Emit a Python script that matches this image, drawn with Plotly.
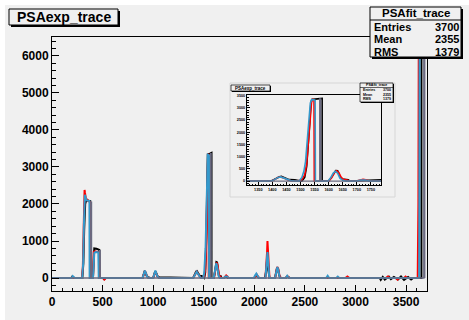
import plotly.graph_objects as go

# ---------------- data ----------------
# experimental trace (black histogram outline)
exp_x = [0, 190, 200, 210, 220,
         300, 310, 318, 322, 328, 336, 340, 378, 380,
         405, 410, 418, 440, 468, 470,
         505, 515, 530,
         895, 905, 915, 925, 935, 950, 970,
         1000, 1010, 1020, 1030, 1042, 1060, 1090, 1120, 1150,
         1395, 1405, 1415, 1425, 1432, 1440, 1450, 1460, 1480, 1490, 1500,
         1505, 1515, 1522, 1528, 1533, 1537, 1540, 1560, 1574, 1577, 1577,
         1600, 1610, 1618, 1625, 1632, 1640, 1648, 1660, 1670, 1675,
         1700, 1712, 1725, 1740,
         2000, 2012, 2022, 2035, 2045,
         2105, 2118, 2125, 2133, 2142, 2150,
         2205, 2215, 2225, 2235, 2245, 2260,
         2310, 2325, 2340, 2355,
         3240, 3250, 3270, 3290, 3330, 3350, 3380, 3420, 3450, 3480, 3520, 3550, 3570,
         3640, 3652, 3652, 3700]
exp_y = [0, 0, 40, 10, 0,
         0, 400, 1300, 1700, 2000, 2080, 2100, 2080, 0,
         0, 600, 800, 790, 760, 0,
         0, -30, 0,
         0, 80, 170, 150, 60, 20, 0,
         0, 90, 180, 140, 50, 20, 20, 10, 0,
         0, 60, 140, 180, 190, 150, 80, 60, 55, 20, 0,
         0, 150, 600, 1400, 2400, 3200, 3340, 3360, 3380, 3380, 0,
         0, 150, 330, 430, 420, 200, 80, 60, 50, 0,
         0, 30, 30, 0,
         0, 50, 80, 30, 0,
         0, 200, 450, 500, 150, 0,
         0, 150, 280, 250, 80, 0,
         0, 40, 30, 0,
         0, -50, 30, -40, 40, -30, 30, -40, 40, -50, 30, -40, 0,
         0, 0, 6300, 6300]

# fit trace (red)
red_x = [0, 195, 205, 215,
         295, 305, 312, 318, 322, 326, 335, 360, 376, 378,
         405, 408, 412, 425, 450, 465, 468,
         505, 518, 532,
         895, 908, 918, 928, 940, 955,
         1000, 1012, 1022, 1032, 1045, 1060,
         1395, 1408, 1420, 1430, 1440, 1452, 1465, 1480,
         1490, 1505, 1515, 1522, 1528, 1534, 1539, 1543, 1548, 1549,
         1600, 1610, 1620, 1628, 1636, 1644, 1652, 1665, 1675,
         1700, 1712, 1722, 1732, 1745,
         2000, 2015, 2025, 2038, 2050,
         2110, 2120, 2126, 2130, 2134, 2140, 2150,
         2205, 2218, 2226, 2236, 2250, 2265,
         2310, 2328, 2345,
         2900, 2920, 2940,
         3300, 3320, 3340, 3400, 3415, 3430, 3480, 3495, 3510,
         3615, 3622, 3626]
red_y = [0, 0, 30, 0,
         0, 300, 1200, 2000, 2380, 2300, 2150, 2080, 2050, 0,
         0, 250, 700, 720, 700, 690, 0,
         0, -40, 0,
         0, 100, 190, 130, 40, 0,
         0, 100, 170, 110, 30, 0,
         0, 60, 150, 170, 130, 60, 20, 0,
         0, 60, 250, 700, 1500, 2500, 3200, 3350, 3330, 0,
         0, 130, 330, 420, 350, 160, 70, 40, 0,
         0, 50, 70, 50, 0,
         0, 60, 90, 30, 0,
         0, 300, 700, 1000, 700, 200, 0,
         0, 180, 300, 250, 50, 0,
         0, 50, 0,
         0, 40, 0,
         0, 40, 0, 0, -40, 0, 0, 40, 0,
         0, 2000, 7000]

# fit trace (blue)
blue_x = [0, 195, 205, 215, 225,
          298, 308, 315, 320, 325, 330, 340, 370, 372,
          405, 412, 418, 430, 458, 462,
          895, 908, 918, 928, 940, 955,
          1000, 1012, 1022, 1032, 1045, 1060,
          1395, 1408, 1420, 1430, 1440, 1452, 1465, 1480,
          1495, 1505, 1512, 1518, 1524, 1530, 1535, 1540, 1548, 1552, 1553,
          1598, 1608, 1616, 1624, 1632, 1640, 1650, 1660,
          1700, 1715, 1730, 1745,
          1995, 2010, 2020, 2032, 2045,
          2110, 2122, 2130, 2138, 2148,
          2205, 2218, 2228, 2238, 2252,
          2310, 2325, 2340,
          2610, 2625, 2640,
          2710, 2725, 2740,
          2810, 2825, 2840,
          3615, 3630, 3634]
blue_y = [0, 0, 50, 10, 0,
          0, 400, 1400, 2000, 2250, 2200, 2100, 2080, 0,
          0, 400, 680, 700, 690, 0,
          0, 110, 200, 140, 40, 0,
          0, 110, 200, 120, 30, 0,
          0, 60, 150, 170, 130, 60, 20, 0,
          0, 150, 400, 800, 1500, 2500, 3200, 3330, 3320, 3300, 0,
          0, 150, 320, 400, 320, 120, 30, 0,
          0, 40, 40, 0,
          0, 80, 120, 60, 0,
          0, 400, 700, 400, 0,
          0, 200, 300, 200, 0,
          0, 60, 0,
          0, 20, 0,
          0, 60, 0,
          0, 40, 0,
          0, 0, 7000]

# second histogram (grey)
grey_x = [0, 384, 384, 390, 390, 472, 472, 476, 476, 1568, 1568, 1572, 1572, 3676, 3676, 3684, 3684]
grey_y = [0, 0, 2050, 2050, 0, 0, 740, 740, 0, 0, 3360, 3360, 0, 0, 7000, 7000, 0]

main_title = "PSAexp_trace"
stats_title = "PSAfit_trace"
stats_names = ["Entries", "Mean", "RMS"]
stats_values = ["3700", "2355", "1379"]
inset_xticks = [1350, 1400, 1450, 1500, 1550, 1600, 1650, 1700, 1750]

# ---------------- layout helpers ----------------
W, H = 469, 320
L, R, T, B = 52, 427, 37, 291
GREY = "#f0f0f0"
FONT = "Liberation Sans"


def px(x):
    return (x - L) / (R - L)


def py(y):
    return (B - y) / (B - T)


fig = go.Figure()

series = [
    (grey_x, grey_y, "#6a6a80", 1.5),
    (exp_x, exp_y, "black", 2),
    (red_x, red_y, "#ff0000", 2),
    (blue_x, blue_y, "#3399cc", 2),
]
order = [1, 2, 3, 0]
for ax in [("x", "y"), ("x2", "y2")]:
    for i in order:
        sx, sy, col, w = series[i]
        fig.add_trace(go.Scatter(x=sx, y=sy, mode="lines", xaxis=ax[0], yaxis=ax[1],
                                 line=dict(color=col, width=w if ax[0] == "x" else w * 0.8),
                                 hoverinfo="skip", showlegend=False))

tickfont = dict(family=FONT, size=12, color="black", weight="bold")
smallfont = dict(family=FONT, size=3.8, color="black", weight="bold")
fig.update_layout(
    width=W, height=H,
    margin=dict(l=L, r=W - R, t=T, b=H - B, pad=0),
    paper_bgcolor="white",
    plot_bgcolor="rgba(0,0,0,0)",
    showlegend=False,
    xaxis=dict(range=[0, 3707], dtick=500, tick0=0, ticks="inside", ticklen=6, tickwidth=1,
               tickcolor="black", showline=True, linecolor="black", linewidth=1, mirror=True,
               showgrid=False, zeroline=False, tickfont=tickfont,
               minor=dict(dtick=100, ticks="inside", ticklen=3, tickcolor="black", showgrid=False)),
    yaxis=dict(range=[-350, 6510], dtick=1000, tick0=0, ticks="inside", ticklen=7, tickwidth=1,
               tickcolor="black", showline=True, linecolor="black", linewidth=1, mirror=True,
               showgrid=False, zeroline=False, tickfont=tickfont,
               minor=dict(dtick=200, ticks="inside", ticklen=4, tickcolor="black", showgrid=False)),
    xaxis2=dict(domain=[px(247), px(381)], anchor="y2", range=[1310, 1786],
                tickmode="array", tickvals=inset_xticks, ticktext=[str(v) for v in inset_xticks],
                ticks="inside", ticklen=3, tickwidth=1, tickcolor="black", showline=True,
                linecolor="black", linewidth=1, mirror=True, showgrid=False, zeroline=False,
                tickfont=smallfont,
                minor=dict(dtick=10, ticks="inside", ticklen=1.5, tickcolor="black", showgrid=False)),
    yaxis2=dict(domain=[py(185), py(95)], anchor="x2", range=[-160, 3520], dtick=500, tick0=0,
                ticks="inside", ticklen=3, tickwidth=1, tickcolor="black", showline=True,
                linecolor="black", linewidth=1, mirror=True, showgrid=False, zeroline=False,
                tickfont=smallfont,
                minor=dict(dtick=100, ticks="inside", ticklen=1.5, tickcolor="black", showgrid=False)),
)

shapes = []


def rect(x0, y0, x1, y1, fill, line=None, lw=0, layer="above"):
    shapes.append(dict(type="rect", xref="paper", yref="paper",
                       x0=px(x0), x1=px(x1), y0=py(y1), y1=py(y0),
                       fillcolor=fill, line=dict(color=line or fill, width=lw), layer=layer))


def hline(x0, x1, y, col="black", lw=1):
    shapes.append(dict(type="line", xref="paper", yref="paper", x0=px(x0), x1=px(x1),
                       y0=py(y), y1=py(y), line=dict(color=col, width=lw), layer="above"))


# canvas and inset pad backgrounds
rect(5, 5, 469, 320, GREY, layer="below")
rect(230, 83, 395, 197, GREY, line="#d6d6d6", lw=1, layer="below")

# main title box
rect(11, 11, 120, 27, "black")
rect(9, 9, 118, 25, GREY, line="black", lw=1)
# stats box
rect(372, 9, 463, 59, "black")
rect(370, 7, 461, 57, GREY, line="black", lw=1)
hline(370, 461, 20)
# inset title box
rect(232, 86, 271, 92, "black")
rect(231, 85, 270, 91, GREY, line="black", lw=0.7)
# inset stats box
rect(361, 84, 394, 103, "black")
rect(360, 83, 393, 102, GREY, line="black", lw=0.7)
hline(360, 393, 87.5, lw=0.6)

fig.update_layout(shapes=shapes)

ann = []


def text(x, y, s, size, xanchor="center"):
    ann.append(dict(xref="paper", yref="paper", x=px(x), y=py(y), text=s, showarrow=False,
                    xanchor=xanchor, yanchor="middle", borderpad=0,
                    font=dict(family=FONT, size=size, color="black", weight="bold")))


text(63.5, 17, main_title, 14)
text(415.5, 13.5, stats_title, 11.5)
for i, (n, v) in enumerate(zip(stats_names, stats_values)):
    yy = 26.8 + i * 12.7
    text(373, yy, n, 11, "left")
    text(460, yy, v, 11, "right")

text(250.5, 88, main_title, 4.5)
text(376.5, 85.3, stats_title, 3.6)
for i, (n, v) in enumerate(zip(stats_names, stats_values)):
    yy = 90.3 + i * 4.4
    text(361.5, yy, n, 3.6, "left")
    text(392, yy, v, 3.6, "right")

fig.update_layout(annotations=ann)

fig.write_html("out.html", config={"displayModeBar": False},
               post_script="document.body.style.margin='0';")
